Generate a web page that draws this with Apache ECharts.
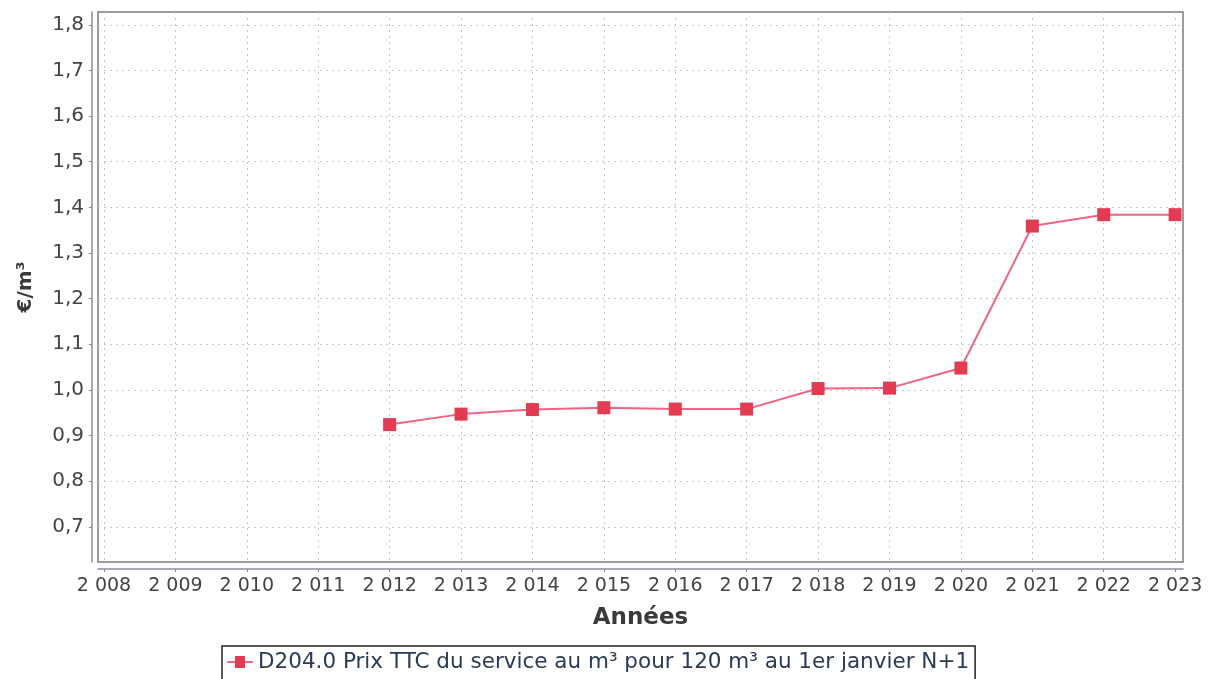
<!DOCTYPE html>
<html style="height: 100%">

<head>
  <meta charset="utf-8">
  <title>Prix TTC du service</title>
</head>

<body style="height: 100%; margin: 0; background: #fff">
  <div id="container" style="height: 100%"></div>
  <script type="text/javascript" src="https://cdn.jsdelivr.net/npm/echarts@6/dist/echarts.min.js"></script>
  <script type="text/javascript">
    // années et prix (€/m³)
    var years = [2012, 2013, 2014, 2015, 2016, 2017, 2018, 2019, 2020, 2021, 2022, 2023];
    var prices = [0.924, 0.947, 0.957, 0.961, 0.958, 0.958, 1.003, 1.004, 1.048, 1.359, 1.384, 1.384];
    var xTicks = [2008, 2009, 2010, 2011, 2012, 2013, 2014, 2015, 2016, 2017, 2018, 2019, 2020, 2021, 2022, 2023];
    var yTicks = [0.7, 0.8, 0.9, 1.0, 1.1, 1.2, 1.3, 1.4, 1.5, 1.6, 1.7, 1.8];
    var seriesName = 'D204.0 Prix TTC du service au m³ pour 120 m³ au 1er janvier N+1';

    var dom = document.getElementById("container");
    var myChart = echarts.init(dom);

    var points = years.map(function (y, i) { return [y, prices[i]]; });

    var option = {
      animation: false,
      textStyle: { fontFamily: 'DejaVu Sans' },
      grid: {
        left: 98,
        right: 33,
        top: 12,
        bottom: 117,
        show: true,
        borderColor: '#7d7d7d',
        borderWidth: 1.5
      },
      legend: {
        left: 222,
        top: 646,
        padding: [5, 6, 10, 5],
        borderColor: '#222',
        borderWidth: 1.5,
        borderRadius: 0,
        itemWidth: 26,
        itemHeight: 12,
        itemGap: 4,
        textStyle: { fontSize: 21.5, color: '#2b3a55', fontFamily: 'DejaVu Sans' },
        data: [{ name: seriesName, icon: 'path://M0,5.2H8V0H18V5.2H26V6.8H18V12H8V6.8H0Z' }]
      },
      xAxis: {
        type: 'value',
        min: 2007.916,
        max: 2023.11,
        offset: 7,
        name: 'Années',
        nameLocation: 'middle',
        nameGap: 38,
        nameTextStyle: { fontSize: 23, color: '#3a3a3a', fontWeight: 'bold' },
        axisLine: { show: true, lineStyle: { color: '#8a8f9c', width: 1.5 } },
        axisTick: { show: true, length: 3, customValues: xTicks, lineStyle: { color: '#888' } },
        axisLabel: {
          customValues: xTicks,
          fontSize: 19,
          color: '#444',
          margin: 8,
          formatter: function (v) { var s = String(v); return s.charAt(0) + ' ' + s.slice(1); }
        },
        splitLine: { show: true, lineStyle: { color: '#c8c8c8', type: [2, 4], width: 1 } }
      },
      yAxis: {
        type: 'value',
        min: 0.623,
        max: 1.828,
        offset: 6,
        name: '€/m³',
        nameLocation: 'middle',
        nameGap: 56,
        nameRotate: 90,
        nameTextStyle: { fontSize: 20, color: '#3a3a3a', fontWeight: 'bold' },
        axisLine: { show: true, lineStyle: { color: '#8a8f9c', width: 1.5 } },
        axisTick: { show: true, length: 3, customValues: yTicks, lineStyle: { color: '#888' } },
        axisLabel: {
          customValues: yTicks,
          fontSize: 20,
          color: '#444',
          margin: 8,
          formatter: function (v) { return v.toFixed(1).replace('.', ','); }
        },
        splitLine: { show: true, lineStyle: { color: '#c8c8c8', type: [2, 4], width: 1 } }
      },
      series: [{
        name: seriesName,
        type: 'line',
        data: points,
        symbol: 'rect',
        symbolSize: 13,
        lineStyle: { color: '#f06583', width: 2 },
        itemStyle: { color: '#e23b52' }
      }]
    };

    if (option && typeof option === "object") {
      myChart.setOption(option, true);
    }
  </script>
</body>

</html>
